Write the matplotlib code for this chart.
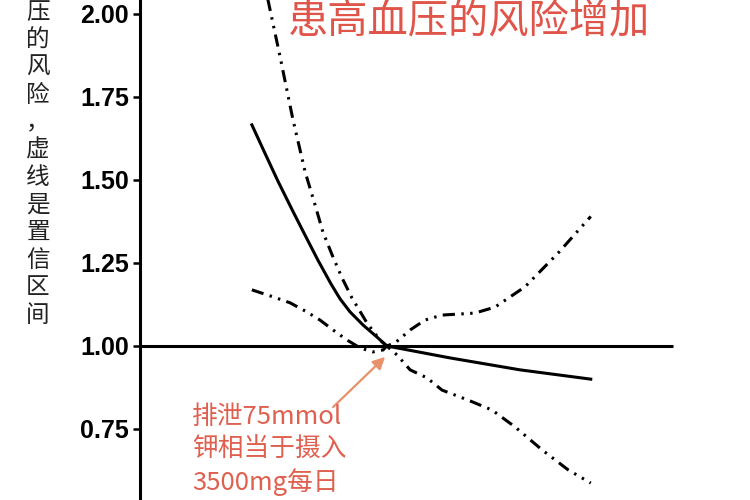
import matplotlib
matplotlib.use("Agg")
import matplotlib.pyplot as plt

# ---- data ----
# x: potassium excretion (mmol/day), y: relative risk of hypertension
est_x = [34, 38.0, 41.9, 46.2, 50.2, 54.1, 58.1, 60.8, 63.8, 67.8, 72.0, 75, 94.2, 115.5, 137]
est_y = [1.666, 1.580, 1.497, 1.411, 1.333, 1.258, 1.186, 1.142, 1.103, 1.063, 1.027, 1.00, 0.964, 0.928, 0.90]

up_x = [34, 38.9, 42.6, 46.5, 48.3, 50.2, 53.2, 55.6, 58.4, 61.4, 64.4, 69.0, 72.9, 75,
        77.5, 82.1, 86.6, 91.8, 101.8, 107.9, 117.0, 127.1, 137]
up_y = [2.274, 2.042, 1.870, 1.681, 1.605, 1.524, 1.425, 1.343, 1.274, 1.205, 1.145, 1.069, 1.018, 1.00,
        1.009, 1.048, 1.078, 1.093, 1.099, 1.117, 1.178, 1.28, 1.39]

lo_x = [34, 40.4, 45.6, 50.8, 54.7, 58.7, 62.9, 66.9, 70.8, 73.9, 75,
        78.1, 82.1, 87.2, 91.8, 99.7, 107, 114, 122.2, 130.1, 137]
lo_y = [1.169, 1.148, 1.130, 1.102, 1.078, 1.048, 1.018, 0.994, 0.982, 0.988, 1.00,
        0.973, 0.928, 0.904, 0.867, 0.837, 0.807, 0.756, 0.687, 0.627, 0.587]

ref_x = [0, 162]
ref_y = [1.0, 1.0]

yticks = [0.75, 1.00, 1.25, 1.50, 1.75, 2.00]
ytick_labels = ["0.75", "1.00", "1.25", "1.50", "1.75", "2.00"]

title_text = "患高血压的风险增加"
ylabel_text = "压的风险，虚线是置信区间"
note_text = "排泄75mmol\n钾相当于摄入\n3500mg每日"

cjk = ["Noto Sans CJK SC", "DejaVu Sans"]

fig = plt.figure(figsize=(7.5, 5), dpi=100)
ax = fig.add_axes([140 / 750, 0, 610 / 750, 1])
ax.set_xlim(0, 185.4)
ax.set_ylim(0.536, 2.042)

ax.plot(ref_x, ref_y, color="black", lw=2.2, solid_capstyle="butt")
ax.plot(est_x, est_y, color="black", lw=2.2)
dash = (0, (4.0, 2.1, 0.8, 2.1, 0.8, 2.1))
ax.plot(up_x, up_y, color="black", lw=2.2, linestyle=dash)
ax.plot(lo_x, lo_y, color="black", lw=2.2, linestyle=dash)

for s in ["top", "right", "bottom"]:
    ax.spines[s].set_visible(False)
ax.spines["left"].set_linewidth(2.2)
ax.set_xticks([])
ax.set_yticks(yticks)
ax.set_yticklabels(ytick_labels, family="Liberation Sans", fontsize=18,
                   fontweight="bold")
ax.tick_params(axis="y", length=5, width=1.8, pad=3)

# title
fig.text(469 / 750, 1 - 1 / 500, title_text, ha="center", va="top",
         color="#e0554a", fontsize=29, family=cjk)

# vertical y label
fig.text(38 / 750, 1 - 1 / 500, "\n".join(ylabel_text), ha="center", va="top",
         fontsize=17, family=cjk, linespacing=1.25, color="#222222")

# annotation
fig.text(192 / 750, 1 - 404 / 500, note_text, ha="left", va="top",
         color="#e0604f", fontsize=18.5, family=cjk, linespacing=1.29)
ax.annotate("", xy=(74.5, 0.967), xytext=(58.7, 0.816),
            arrowprops=dict(arrowstyle="-|>", color="#e8916a", lw=1.6,
                            mutation_scale=18, shrinkA=0, shrinkB=0))

fig.savefig("out.png", dpi=100)
